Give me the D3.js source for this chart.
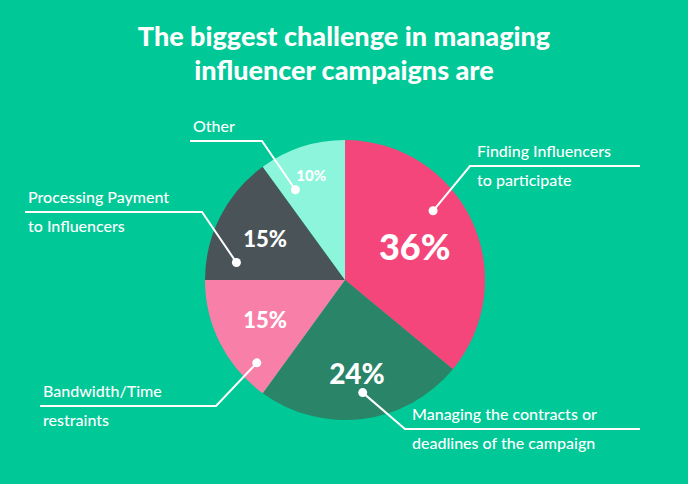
<!DOCTYPE html><html><head><meta charset="utf-8"><script src="https://cdn.jsdelivr.net/npm/d3@7"></script>
<style>body{margin:0;background:#00C897}</style></head><body><svg id="c" width="688" height="484"></svg><script>
const categories=["Finding Influencers to participate","Managing the contracts or deadlines of the campaign","Bandwidth/Time restraints","Processing Payment to Influencers","Other"];
const values=[36,24,15,15,10];
const colors=["#F4467A","#2A8467","#F77FA8","#4A5458","#8CF5DC"];
const labelLines=[["Finding Influencers","to participate"],["Managing the contracts or","deadlines of the campaign"],["Bandwidth/Time","restraints"],["Processing Payment","to Influencers"],["Other"]];
const svg=d3.select("#c"),F="Lato, sans-serif";
svg.append("rect").attr("width",688).attr("height",484).attr("fill","#00C897");
[["The biggest challenge in managing",46],["influencer campaigns are",80]].forEach(([t,y])=>svg.append("text").attr("x",344).attr("y",y).attr("text-anchor","middle").attr("fill","#fff").attr("font-family",F).attr("font-weight",900).attr("font-size",27).text(t));
const cx=345,cy=280,R=140;
const g=svg.append("g").attr("transform",`translate(${cx},${cy})`);
const arcs=d3.pie().sort(null)(values);
const arc=d3.arc().innerRadius(0).outerRadius(R);
g.selectAll("path").data(arcs).join("path").attr("d",arc).attr("fill",(d,i)=>colors[i]);
const pctPos=[[0.55,36],[0.68,28],[0.64,22],[0.64,22],[0.78,15]];
arcs.forEach((d,i)=>{const c=d3.arc().innerRadius(0).outerRadius(R*pctPos[i][0]*2).centroid(d);
g.append("text").attr("x",c[0]).attr("y",c[1]).attr("dy","0.35em").attr("text-anchor","middle").attr("fill","#fff").attr("font-family",F).attr("font-weight",900).attr("font-size",pctPos[i][1]).text(values[i]+"%");});
// leaders: t = position within slice, r = dot radius, elbow, horizontal end, text x
const leaders=[
 {t:0.4,r:112,el:[470,166],end:640,tx:477},
 {t:0.48,r:114,el:[405,429],end:640,tx:412},
 {t:0.2,r:121,el:[216,406],end:40,tx:43},
 {t:0.17,r:110,el:[202,212],end:25,tx:28},
 {t:0.2,r:103,el:[262,141],end:190,tx:193}];
arcs.forEach((d,i)=>{const L=leaders[i];const a=d.startAngle+(d.endAngle-d.startAngle)*L.t;
const p=[cx+Math.sin(a)*L.r,cy-Math.cos(a)*L.r];
svg.append("path").attr("d",d3.line()([p,L.el,[L.end,L.el[1]]])).attr("fill","none").attr("stroke","#fff").attr("stroke-width",2);
svg.append("circle").attr("cx",p[0]).attr("cy",p[1]).attr("r",4.5).attr("fill","#fff");
labelLines[i].forEach((t,j)=>svg.append("text").attr("x",L.tx).attr("y",L.el[1]-9+j*29).attr("fill","#fff").attr("font-family",F).attr("font-weight",500).attr("font-size",16).text(t));});
</script></body></html>
